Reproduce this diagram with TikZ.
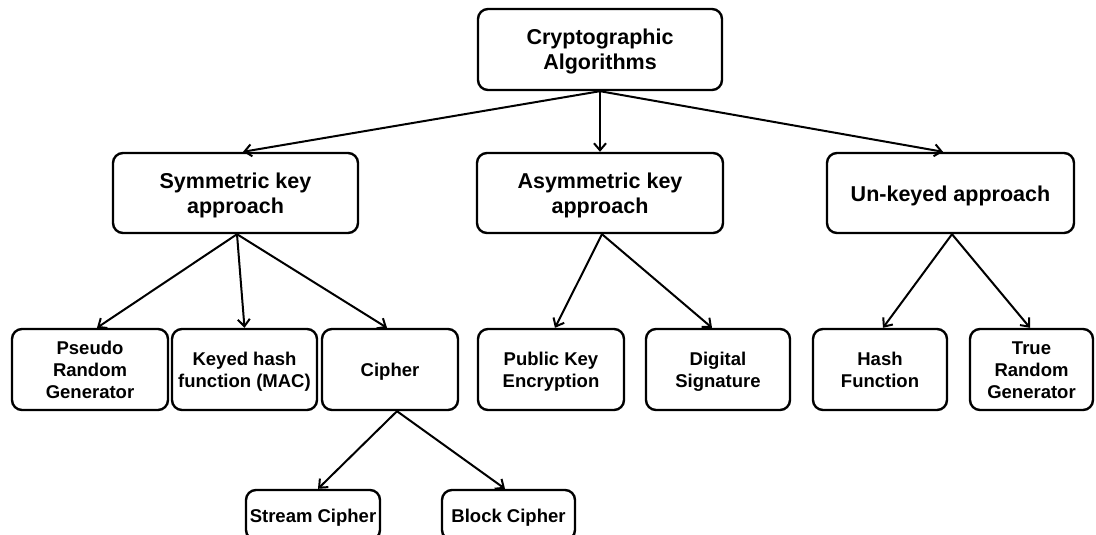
\documentclass[tikz,border=0pt]{standalone}
\usepackage{fontspec}
\setmainfont{Liberation Sans}
\usetikzlibrary{arrows.meta}
\newcommand{\boxtext}[1]{\raisebox{-3pt}[\height][\depth]{\begin{tabular}{@{}c@{}}#1\end{tabular}}}
\begin{document}
\begin{tikzpicture}[x=1pt,y=-1pt,
  box/.style={draw, line width=2.4pt, rounded corners=10pt, inner sep=0pt,
    font=\bfseries\fontsize{21.5}{25}\selectfont},
  sbox/.style={box, font=\bfseries\fontsize{18.5}{22}\selectfont},
  arr/.style={-{Straight Barb[length=7pt,width=12pt,line width=2pt]}, line width=2pt}]
\useasboundingbox (0,0) rectangle (1096,535);
\clip (0,0) rectangle (1096,535);
% level 1
\node[box, minimum width=244pt, minimum height=81pt] (root) at (600,49.5) {\boxtext{Cryptographic\\Algorithms}};
% level 2
\node[box, minimum width=245pt, minimum height=80pt] (sym) at (235.5,193) {\boxtext{Symmetric key\\approach}};
\node[box, minimum width=246pt, minimum height=80pt] (asym) at (600,193) {\boxtext{Asymmetric key\\approach}};
\node[box, minimum width=247pt, minimum height=80pt] (unk) at (950.5,193) {\boxtext{Un-keyed approach}};
% level 3
\node[sbox, minimum width=156pt, minimum height=81pt] (prg) at (90,369.5) {\boxtext{Pseudo\\Random\\Generator}};
\node[sbox, minimum width=145pt, minimum height=81pt] (kh) at (244.5,369.5) {\boxtext{Keyed hash\\function (MAC)}};
\node[sbox, minimum width=136pt, minimum height=81pt] (cipher) at (390,369.5) {\boxtext{Cipher}};
\node[sbox, minimum width=146pt, minimum height=81pt] (pke) at (551,369.5) {\boxtext{Public Key\\Encryption}};
\node[sbox, minimum width=144pt, minimum height=81pt] (ds) at (718,369.5) {\boxtext{Digital\\Signature}};
\node[sbox, minimum width=134pt, minimum height=81pt] (hf) at (880,369.5) {\boxtext{Hash\\Function}};
\node[sbox, minimum width=123pt, minimum height=81pt] (trg) at (1031.5,369.5) {\boxtext{True\\Random\\Generator}};
% level 4
\node[sbox, minimum width=134pt, minimum height=50pt] (stream) at (313,515) {\boxtext{Stream Cipher}};
\node[sbox, minimum width=133pt, minimum height=50pt] (block) at (508.5,515) {\boxtext{Block Cipher}};
% connectors
\draw[arr] (root.south) -- ([xshift=7.5pt]sym.north);
\draw[arr] (root.south) -- (asym.north);
\draw[arr] (root.south) -- ([xshift=-7.5pt]unk.north);
\draw[arr] ([xshift=1.5pt]sym.south) -- ([xshift=7pt]prg.north);
\draw[arr] ([xshift=1.5pt]sym.south) -- (kh.north);
\draw[arr] ([xshift=1.5pt]sym.south) -- ([xshift=-3pt]cipher.north);
\draw[arr] ([xshift=2pt]asym.south) -- ([xshift=4pt]pke.north);
\draw[arr] ([xshift=2pt]asym.south) -- ([xshift=-6pt]ds.north);
\draw[arr] ([xshift=1.5pt]unk.south) -- ([xshift=3pt]hf.north);
\draw[arr] ([xshift=1.5pt]unk.south) -- ([xshift=-1.5pt]trg.north);
\draw[arr] ([xshift=7pt]cipher.south) -- ([xshift=5pt]stream.north);
\draw[arr] ([xshift=7pt]cipher.south) -- ([xshift=-3.5pt]block.north);
\end{tikzpicture}
\end{document}
